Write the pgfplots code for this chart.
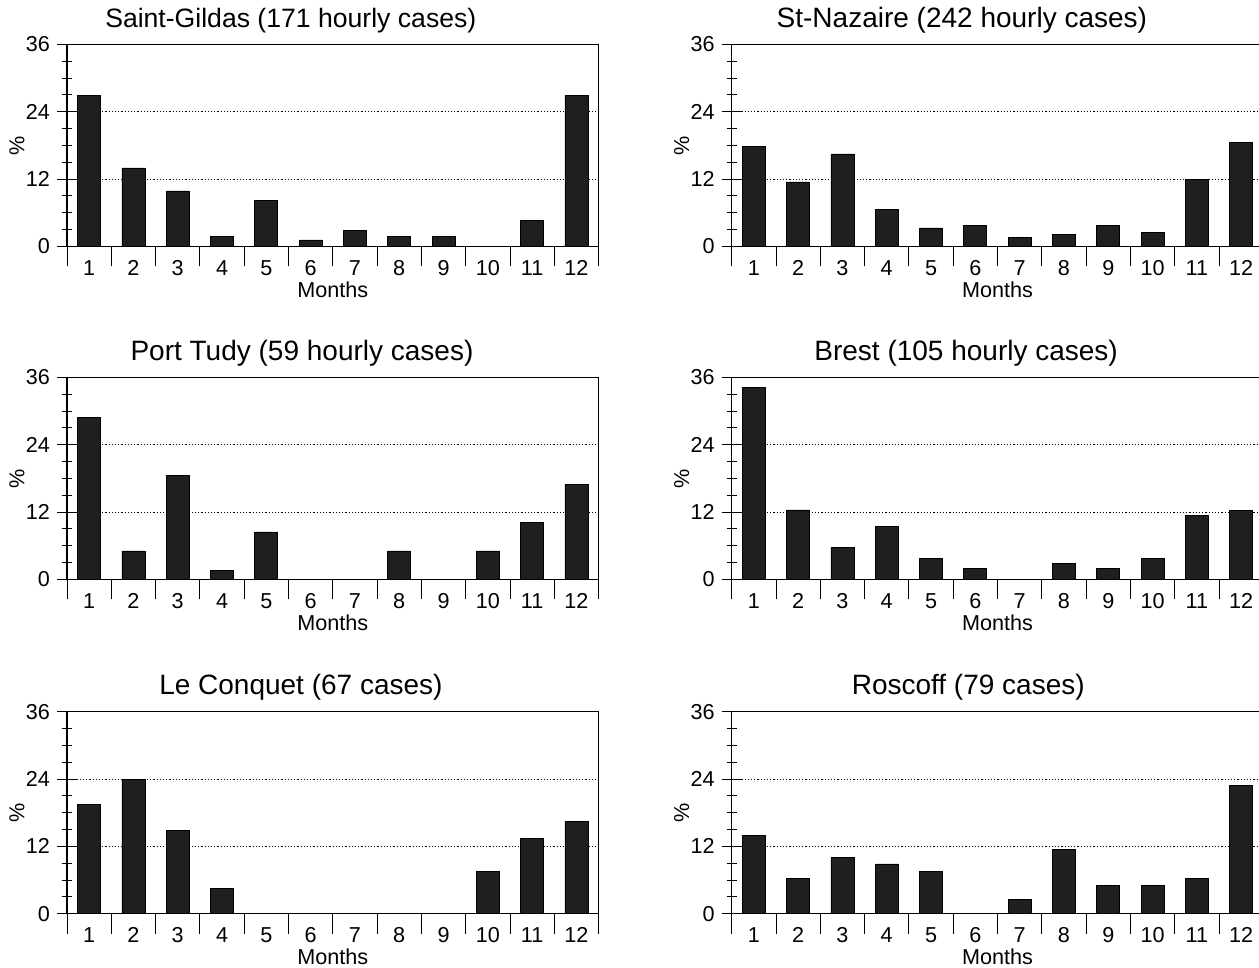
\documentclass[border=0pt]{standalone}
\usepackage{pgfplots}
\pgfplotsset{compat=1.18}
\usepackage{fontspec}
\setmainfont{Liberation Sans}

\pgfplotsset{
 panel/.style={
  scale only axis, width=265.8pt, height=101pt,
  anchor=south west,
  xmin=0.5, xmax=12.5, ymin=0, ymax=36,
  ytick={0,12,24,36}, minor ytick={3,6,9,15,18,21,27,30,33},
  xtick={0.5,1.5,...,12.5}, xticklabels={},
  extra x ticks={1,...,12}, extra x tick labels={1,...,12},
  extra x tick style={major tick length=0pt, grid=none},
  tick align=center, major tick length=10pt, minor tick length=5pt,
  tick pos=left,
  ymajorgrids, major grid style={black, line width=0.5pt, dash pattern=on 0.6pt off 1pt},
  axis line style={black, line width=0.7pt},
  tick style={black, line width=0.5pt},
  ticklabel style={font=\fontsize{10.8}{12}\selectfont},
  xticklabel style={yshift=-3.5pt},
  /pgf/number format/assume math mode=true,
  xlabel=Months, ylabel=\%,
  label style={font=\fontsize{10.8}{12}\selectfont},
  xlabel style={at={(axis description cs:0.5,0)}, anchor=base, yshift=-25.5pt},
  ylabel style={at={(axis description cs:-0.094,0.5)}, anchor=center},
  title style={font=\fontsize{14}{16}\selectfont, anchor=base, yshift=2.5pt},
  ybar, bar width=11.5pt,
 },
 bars/.style={fill=black!88, draw=black, line width=0.4pt},
}

\begin{document}
\begin{tikzpicture}
\useasboundingbox (0,0) rectangle (629.5pt,484pt);
\clip (0,0) rectangle (629.5pt,484pt);

\begin{axis}[panel, at={(33.5pt,360.75pt)}, title={Saint-Gildas (171 hourly cases)}, title style={at={(axis description cs:0.421,1)}, font=\fontsize{13.3}{16}\selectfont}]
\addplot[bars] coordinates {(1,26.9) (2,14.0) (3,9.9) (4,1.75) (5,8.2) (6,1.17) (7,2.9) (8,1.75) (9,1.75) (10,0) (11,4.7) (12,26.9)};
\end{axis}

\begin{axis}[panel, at={(365.85pt,360.75pt)}, title={St-Nazaire (242 hourly cases)}, title style={at={(axis description cs:0.433,1)}}]
\addplot[bars] coordinates {(1,17.8) (2,11.5) (3,16.5) (4,6.6) (5,3.3) (6,3.7) (7,1.65) (8,2.07) (9,3.7) (10,2.48) (11,11.9) (12,18.6)};
\end{axis}

\begin{axis}[panel, at={(33.5pt,194.25pt)}, title={Port Tudy (59 hourly cases)}, title style={at={(axis description cs:0.442,1)}}]
\addplot[bars] coordinates {(1,28.8) (2,5.08) (3,18.6) (4,1.69) (5,8.47) (6,0) (7,0) (8,5.08) (9,0) (10,5.08) (11,10.17) (12,16.95)};
\end{axis}

\begin{axis}[panel, at={(365.85pt,194.25pt)}, title={Brest (105 hourly cases)}, title style={at={(axis description cs:0.441,1)}}]
\addplot[bars] coordinates {(1,34.3) (2,12.4) (3,5.7) (4,9.5) (5,3.8) (6,1.9) (7,0) (8,2.86) (9,1.9) (10,3.8) (11,11.4) (12,12.3)};
\end{axis}

\begin{axis}[panel, at={(33.5pt,27.15pt)}, title={Le Conquet (67 cases)}, title style={at={(axis description cs:0.440,1)}}]
\addplot[bars] coordinates {(1,19.4) (2,23.9) (3,14.9) (4,4.5) (5,0) (6,0) (7,0) (8,0) (9,0) (10,7.46) (11,13.4) (12,16.4)};
\end{axis}

\begin{axis}[panel, at={(365.85pt,27.15pt)}, title={Roscoff (79 cases)}, title style={at={(axis description cs:0.445,1)}}]
\addplot[bars] coordinates {(1,13.9) (2,6.33) (3,10.1) (4,8.86) (5,7.59) (6,0) (7,2.53) (8,11.39) (9,5.06) (10,5.06) (11,6.33) (12,22.8)};
\end{axis}
\end{tikzpicture}
\end{document}
